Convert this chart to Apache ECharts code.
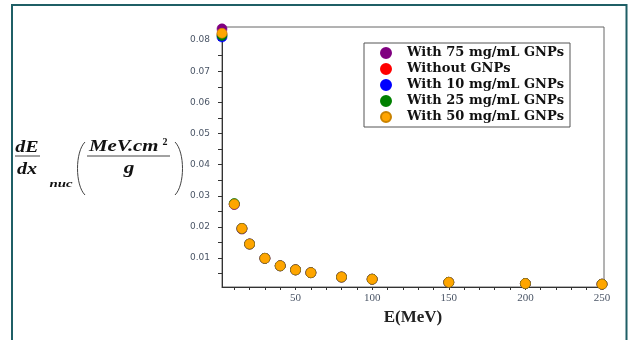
<!DOCTYPE html>
<html>
<head>
<meta charset="utf-8">
<script src="https://cdn.jsdelivr.net/npm/echarts@6/dist/echarts.min.js"></script>
<style>
html,body{margin:0;padding:0;background:#fff;}
#chart{width:629px;height:340px;}
</style>
</head>
<body>
<div id="chart"></div>
<script>
// Energies (MeV)
var energies = [2, 10, 15, 20, 30, 40, 50, 60, 80, 100, 150, 200, 250];
// Nuclear stopping power values (MeV.cm^2/g)
var with75 = [0.0836, 0.0272, 0.0193, 0.0145, 0.0099, 0.0075, 0.0062, 0.0053, 0.0039, 0.0032, 0.0022, 0.0018, 0.0016];
var without = [0.0818, 0.0273, 0.0195, 0.0145, 0.0099, 0.0075, 0.0062, 0.0053, 0.0039, 0.0032, 0.0022, 0.0018, 0.0016];
var with10 = [0.0810, 0.0273, 0.0195, 0.0145, 0.0099, 0.0075, 0.0062, 0.0053, 0.0039, 0.0032, 0.0022, 0.0018, 0.0016];
var with25 = [0.0815, 0.0275, 0.0195, 0.0145, 0.0099, 0.0075, 0.0062, 0.0053, 0.0039, 0.0032, 0.0022, 0.0018, 0.0016];
var with50 = [0.0822, 0.0273, 0.0195, 0.0145, 0.0099, 0.0075, 0.0062, 0.0053, 0.0039, 0.0032, 0.0022, 0.0018, 0.0016];
var seriesNames = ['With 75 mg/mL GNPs', 'Without GNPs', 'With 10 mg/mL GNPs', 'With 25 mg/mL GNPs', 'With 50 mg/mL GNPs'];
var seriesColors = ['#800080', '#ff0000', '#0000ff', '#008000', '#ffa500'];
var xTickLabels = [50, 100, 150, 200, 250];
var xTicks = [10,20,30,40,50,60,70,80,90,100,110,120,130,140,150,160,170,180,190,200,210,220,230,240,250];
var yTickLabels = [0.01, 0.02, 0.03, 0.04, 0.05, 0.06, 0.07, 0.08];
var yTicks = [0.005,0.01,0.015,0.02,0.025,0.03,0.035,0.04,0.045,0.05,0.055,0.06,0.065,0.07,0.075,0.08];

var allData = [with75, without, with10, with25, with50];
function pairs(arr){ return energies.map(function(e,i){ return [e, arr[i]]; }); }

var chart = echarts.init(document.getElementById('chart'), null, {renderer:'canvas'});
var serif = 'DejaVu Serif';
var mathFont = function(sz){ return 'italic bold ' + sz + 'px "Liberation Serif"'; };
var option = {
  animation: false,
  backgroundColor: '#fff',
  grid: {left: 222, right: 25, top: 27, bottom: 53, show: true, borderColor: '#666', borderWidth: 1},
  xAxis: {
    type: 'value', min: 2, max: 251.3,
    splitLine: {show: false},
    axisLine: {show: true, onZero: false, lineStyle: {color: '#333', width: 1}},
    axisTick: {show: true, customValues: xTicks, length: 3, inside: false, lineStyle: {color: '#333'}},
    axisLabel: {customValues: xTickLabels, color: '#4a5566', fontFamily: 'Liberation Serif', fontSize: 11, margin: 6},
    name: 'E(MeV)', nameLocation: 'middle', nameGap: 16,
    nameTextStyle: {fontFamily: 'Liberation Serif', fontWeight: 'bold', fontSize: 17, color: '#222'}
  },
  yAxis: {
    type: 'value', min: 0.0007, max: 0.0842,
    splitLine: {show: false},
    axisLine: {show: true, onZero: false, lineStyle: {color: '#333', width: 1}},
    axisTick: {show: true, customValues: yTicks, length: 4, lineStyle: {color: '#333'}},
    axisLabel: {customValues: yTickLabels, color: '#4a5566', fontFamily: 'DejaVu Sans', fontSize: 9, margin: 12,
      formatter: function(v){ return v.toFixed(2); }}
  },
  legend: {
    orient: 'vertical', left: 364, top: 43,
    data: seriesNames.map(function(n){ return {name: n, icon: 'circle'}; }),
    borderColor: '#555', borderWidth: 1, backgroundColor: '#fff',
    padding: [2, 6, 2, 16], itemWidth: 10, itemHeight: 10, itemGap: 0,
    textStyle: {fontFamily: serif, fontWeight: 'bold', fontSize: 13, color: '#111', lineHeight: 16, padding: [0,0,0,11]}
  },
  series: allData.map(function(arr, i){
    return {
      name: seriesNames[i], type: 'scatter', data: pairs(arr),
      symbol: 'circle', symbolSize: 10, clip: false,
      itemStyle: {color: seriesColors[i], borderColor: i === 4 ? '#c98200' : seriesColors[i], borderWidth: 0.6, opacity: 1}
    };
  }),
  graphic: [
    {type: 'rect', shape: {x: 12, y: 5, width: 614.5, height: 345}, style: {fill: 'none', stroke: '#1f5f66', lineWidth: 2}, silent: true},
    {type: 'text', x: 27, y: 148, scaleX: 1.25, style: {text: 'dE', font: mathFont(16), fill: '#111', align: 'center', verticalAlign: 'middle'}},
    {type: 'line', shape: {x1: 15, y1: 156, x2: 40, y2: 156}, style: {stroke: '#444', lineWidth: 1}},
    {type: 'text', x: 27, y: 170, scaleX: 1.25, style: {text: 'dx', font: mathFont(16), fill: '#111', align: 'center', verticalAlign: 'middle'}},
    {type: 'text', x: 61, y: 184, scaleX: 1.35, style: {text: 'nuc', font: mathFont(11), fill: '#111', align: 'center', verticalAlign: 'middle'}},
    {type: 'bezierCurve', shape: {x1: 85, y1: 142, x2: 85, y2: 195, cpx1: 75, cpy1: 152, cpx2: 75, cpy2: 185}, style: {stroke: '#444', lineWidth: 1, fill: 'none'}},
    {type: 'text', x: 89, y: 147, scaleX: 1.3, style: {text: 'MeV.cm', font: mathFont(16), fill: '#111', align: 'left', verticalAlign: 'middle'}},
    {type: 'text', x: 165, y: 142, style: {text: '2', font: 'bold 10px "Liberation Serif"', fill: '#111', align: 'center', verticalAlign: 'middle'}},
    {type: 'line', shape: {x1: 87, y1: 156, x2: 170, y2: 156}, style: {stroke: '#444', lineWidth: 1}},
    {type: 'text', x: 129, y: 169, scaleX: 1.25, style: {text: 'g', font: mathFont(17), fill: '#111', align: 'center', verticalAlign: 'middle'}},
    {type: 'bezierCurve', shape: {x1: 175, y1: 142, x2: 175, y2: 195, cpx1: 185, cpy1: 152, cpx2: 185, cpy2: 185}, style: {stroke: '#444', lineWidth: 1, fill: 'none'}}
  ]
};
chart.setOption(option);
</script>
</body>
</html>
